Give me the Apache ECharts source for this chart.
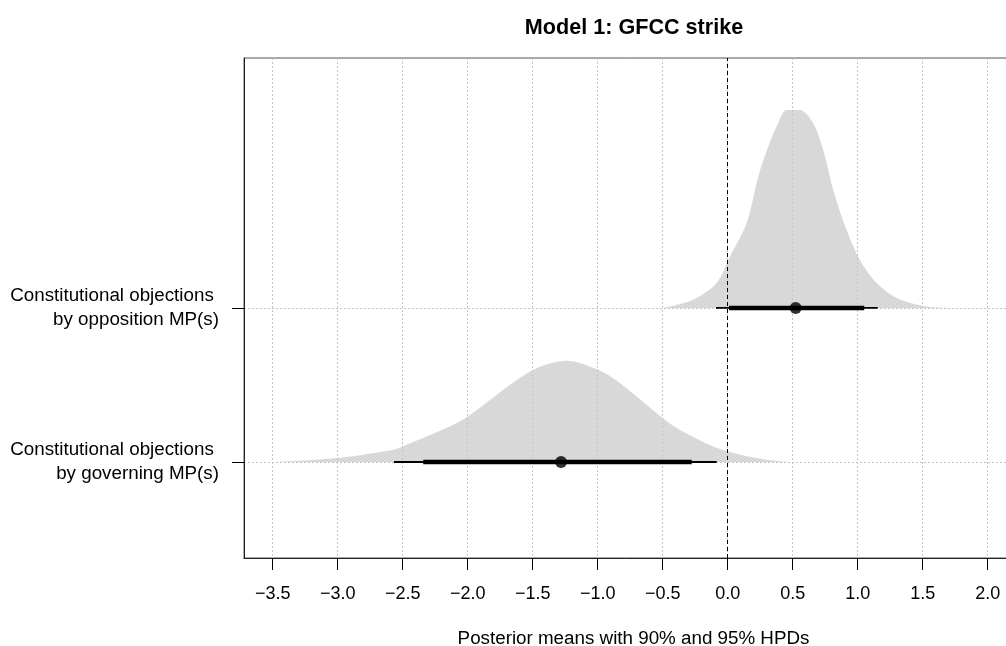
<!DOCTYPE html>
<html>
<head>
<meta charset="utf-8">
<script src="https://cdn.jsdelivr.net/npm/echarts@6/dist/echarts.min.js"></script>
<style>
  html, body { margin: 0; padding: 0; background: #fff; }
  #chart { width: 1006px; height: 646px; }
</style>
</head>
<body>
<div id="chart"></div>
<script>
// rows: 1 = governing, 2 = opposition
const categories = [
  "Constitutional objections \nby governing MP(s)",
  "Constitutional objections \nby opposition MP(s)"
];
const rows = [1, 2];
const xTicks = [-3.5, -3.0, -2.5, -2.0, -1.5, -1.0, -0.5, 0.0, 0.5, 1.0, 1.5, 2.0];

const means = [-1.282, 0.523];
const hpd90 = [[-2.342, -0.277], [0.01, 1.05]];
const hpd95 = [[-2.567, -0.085], [-0.09, 1.154]];

// posterior density outlines (height in row units)
const densGovX = [-3.5, -3.0, -2.57, -2.5, -2.11, -1.98, -1.62, -1.44, -1.24, -1.0, -0.83, -0.5, -0.37, -0.11, 0.1, 0.3, 0.48];
const densGovY = [0, 0.026, 0.08, 0.101, 0.242, 0.307, 0.534, 0.62, 0.658, 0.6, 0.513, 0.286, 0.21, 0.101, 0.047, 0.015, 0];
const densOppX = [-0.5, -0.27, -0.085, 0.018, 0.146, 0.223, 0.274, 0.377, 0.454, 0.556, 0.658, 0.735, 0.812, 0.915, 1.018, 1.146, 1.3, 1.505, 1.71];
const densOppY = [0, 0.052, 0.162, 0.335, 0.552, 0.81, 0.96, 1.18, 1.286, 1.286, 1.2, 1.026, 0.766, 0.506, 0.31, 0.162, 0.065, 0.013, 0];

const fontFamily = "'Liberation Sans', Arial, Helvetica, sans-serif";
const minus = (v) => String(v.toFixed(1)).replace("-", "\u2212");

function densSeries(xs, ys, base) {
  return {
    type: "line",
    silent: true,
    symbol: "none",
    smooth: 0.3,
    z: 2,
    lineStyle: { width: 0 },
    areaStyle: { color: "rgba(200,200,200,0.7)", origin: base, opacity: 1 },
    data: xs.map((x, i) => [x, base + ys[i]])
  };
}

function segSeries(lo, hi, row, width) {
  return {
    type: "line",
    silent: true,
    symbol: "none",
    z: 4,
    lineStyle: { color: "#000", width: width, cap: "butt" },
    data: [[lo, row], [hi, row]]
  };
}

const series = [
  densSeries(densGovX, densGovY, rows[0]),
  densSeries(densOppX, densOppY, rows[1]),
  {
    type: "line",
    silent: true,
    data: [],
    z: 3,
    markLine: {
      silent: true,
      symbol: "none",
      label: { show: false },
      lineStyle: { color: "#000", type: [4, 3], width: 1 },
      data: [{ xAxis: 0 }]
    }
  }
];
rows.forEach((r, i) => {
  series.push(segSeries(hpd95[i][0], hpd95[i][1], r, 1.8));
  series.push(segSeries(hpd90[i][0], hpd90[i][1], r, 4.5));
});
series.push({
  type: "scatter",
  silent: true,
  z: 5,
  symbolSize: 12,
  itemStyle: { color: "#000" },
  data: means.map((m, i) => [m, rows[i]])
});

const chart = echarts.init(document.getElementById("chart"), null, { renderer: "canvas" });
chart.setOption({
  animation: false,
  backgroundColor: "#fff",
  textStyle: { fontFamily: fontFamily },
  title: {
    text: "Model 1: GFCC strike",
    left: 629,
    top: 12,
    textAlign: "center",
    textStyle: { fontSize: 21.6, fontWeight: "bold", color: "#000", fontFamily: fontFamily }
  },
  grid: {
    left: 244,
    top: 58,
    right: -17,
    bottom: 88,
    show: true,
    borderColor: "#555",
    borderWidth: 1,
    containLabel: false,
    outerBoundsMode: "none"
  },
  xAxis: {
    type: "value",
    min: -3.7208,
    max: 2.2715,
    name: "Posterior means with 90% and 95% HPDs",
    nameLocation: "middle",
    nameGap: 71,
    nameTextStyle: { fontSize: 18.8, color: "#000", fontFamily: fontFamily },
    axisLine: { show: true, onZero: false, lineStyle: { color: "#222", width: 1 } },
    axisTick: { show: true, customValues: xTicks, length: 12, lineStyle: { color: "#000" } },
    axisLabel: {
      customValues: xTicks,
      margin: 27,
      fontSize: 18,
      color: "#000",
      formatter: (v) => minus(v)
    },
    splitLine: { show: true, lineStyle: { color: "#c4c4c4", type: [2, 2], width: 1 } }
  },
  yAxis: {
    type: "value",
    min: 0.3766,
    max: 3.623,
    axisLine: { show: true, onZero: false, lineStyle: { color: "#222", width: 1 } },
    axisTick: { show: true, customValues: rows, length: 12, lineStyle: { color: "#000" } },
    axisLabel: {
      customValues: rows,
      margin: 25,
      fontSize: 18.8,
      lineHeight: 24,
      padding: [6, 0, 0, 0],
      backgroundColor: "rgba(255,255,255,0)",
      color: "#000",
      align: "right",
      formatter: (v) => categories[Math.round(v) - 1]
    },
    splitLine: { show: true, lineStyle: { color: "#c4c4c4", type: [2, 2], width: 1 } }
  },
  series: series
});
</script>
</body>
</html>
